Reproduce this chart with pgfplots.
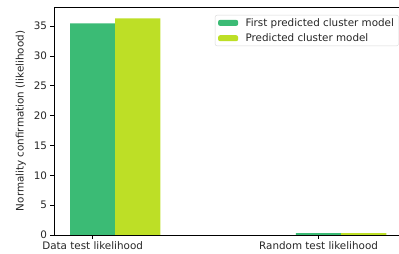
\documentclass[border=0pt]{standalone}
\usepackage{pgfplots}
\pgfplotsset{compat=1.18}
\usepackage{fontspec}
\setmainfont{DejaVu Sans}
\definecolor{cgreen}{HTML}{3BBB75}
\definecolor{cyellow}{HTML}{BDDF26}
\newcommand{\ff}{\fontsize{10.4}{12.5}\selectfont}
\begin{document}
\begin{tikzpicture}
\useasboundingbox (-54bp,-19bp) rectangle (345bp,235bp);
\begin{axis}[
  scale only axis,
  width=345bp, height=228bp,
  xmin=-0.171, xmax=1.356,
  ymin=0, ymax=38.2,
  ybar, bar width=0.2, bar shift=0pt,
  xtick={0,1},
  xticklabels={Data test likelihood, Random test likelihood},
  ytick={0,5,...,35},
  axis line style={line width=0.8bp},
  separate axis lines,
  axis x line*=bottom, axis y line*=left,
  tick align=outside,
  major tick length=3.5bp,
  tick style={black, line width=0.8bp},
  tick label style={font=\ff, text=black!85},
  /pgf/number format/assume math mode=true,
  ylabel={Normality confirmation (likelihood)},
  ylabel style={at={(axis description cs:-0.096,0.5)}, anchor=center, font=\ff, text=black!85},
  legend style={at={(rel axis cs:0.999,0.965)}, anchor=north east, draw=black!15, rounded corners=2pt, font=\ff, text=black!85, row sep=3bp, column sep=6bp, inner xsep=3bp, inner ysep=1.5bp, nodes={font=\ff, inner sep=1.5bp}},
  legend cell align=left,
  legend image code/.code={\fill[#1] (0bp,-3bp) rectangle (20bp,3bp);},
]
\addplot[fill=cgreen, draw=none] coordinates {(0,35.45) (1,0.32)};
\addlegendentry{First predicted cluster model}
\addplot[fill=cyellow, draw=none] coordinates {(0.2,36.3) (1.2,0.32)};
\addlegendentry{Predicted cluster model}
\draw[line width=0.8bp] (rel axis cs:0,1) -- (rel axis cs:1.02,1);
\end{axis}
\end{tikzpicture}
\end{document}
